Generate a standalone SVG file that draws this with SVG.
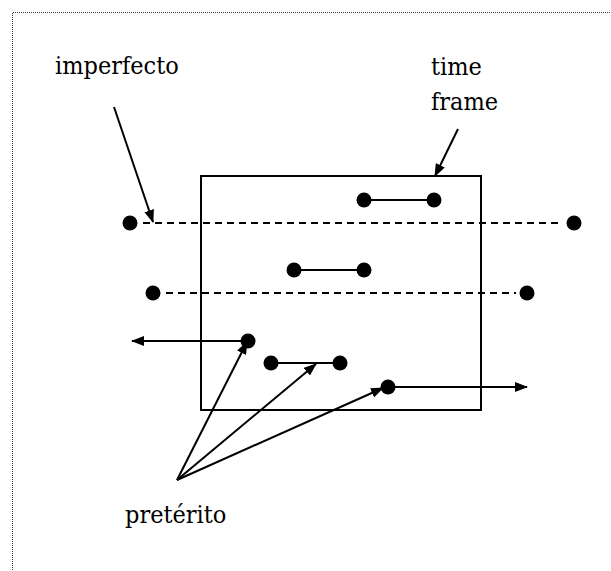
<svg xmlns="http://www.w3.org/2000/svg" width="611" height="571" viewBox="0 0 611 571">
<style>
text{font-family:"DejaVu Serif Condensed","DejaVu Serif","Liberation Serif",serif;font-stretch:condensed;font-size:25px;fill:#000}
.ln{stroke:#000;stroke-width:2;fill:none}
.ds{stroke:#000;stroke-width:2;fill:none;stroke-dasharray:7 5}
.dot{fill:#000}
.ar{stroke:#000;stroke-width:2;fill:none;marker-end:url(#ah)}
</style>
<defs>
<marker id="ah" viewBox="0 0 13 10" refX="12" refY="5" markerWidth="13" markerHeight="10" markerUnits="userSpaceOnUse" orient="auto">
<path d="M0,0 L13,5 L0,10 z" fill="#000"/>
</marker>
</defs>
<rect width="611" height="571" fill="#fff"/>
<path d="M12.5,600 V12.5 H620" stroke="#333" stroke-width="1" fill="none" stroke-dasharray="1 1"/>
<g id="time-frame-box">
<rect x="201" y="176" width="280" height="234" class="ln"/>
</g>
<g id="labels">
<text x="55" y="74">imperfecto</text>
<text x="431" y="75">time</text>
<text x="431" y="110">frame</text>
<text x="125" y="523">pretérito</text>
</g>
<g id="connectors">
<line class="ds" x1="143" y1="223" x2="562" y2="223"/>
<line class="ds" x1="166" y1="293" x2="516" y2="293"/>
<line class="ln" x1="364" y1="200" x2="434" y2="200"/>
<line class="ln" x1="294" y1="270" x2="364" y2="270"/>
<line class="ln" x1="271" y1="363" x2="340" y2="363"/>
<line class="ar" x1="248" y1="341" x2="132" y2="341"/>
<line class="ar" x1="388" y1="387" x2="527" y2="387"/>
<line class="ar" x1="114" y1="107" x2="153" y2="222"/>
<line class="ar" x1="458" y1="129" x2="435" y2="176"/>
<line class="ar" x1="177" y1="480" x2="247" y2="342"/>
<line class="ar" x1="177" y1="480" x2="316" y2="364"/>
<line class="ar" x1="177" y1="480" x2="383" y2="388"/>
</g>
<g id="dots">
<circle class="dot" cx="130" cy="223" r="7.5"/>
<circle class="dot" cx="574" cy="223" r="7.5"/>
<circle class="dot" cx="153" cy="293" r="7.5"/>
<circle class="dot" cx="527" cy="293" r="7.5"/>
<circle class="dot" cx="364" cy="200" r="7.5"/>
<circle class="dot" cx="434" cy="200" r="7.5"/>
<circle class="dot" cx="294" cy="270" r="7.5"/>
<circle class="dot" cx="364" cy="270" r="7.5"/>
<circle class="dot" cx="271" cy="363" r="7.5"/>
<circle class="dot" cx="340" cy="363" r="7.5"/>
<circle class="dot" cx="248" cy="341" r="7.5"/>
<circle class="dot" cx="388" cy="387" r="7.5"/>
</g>
</svg>
